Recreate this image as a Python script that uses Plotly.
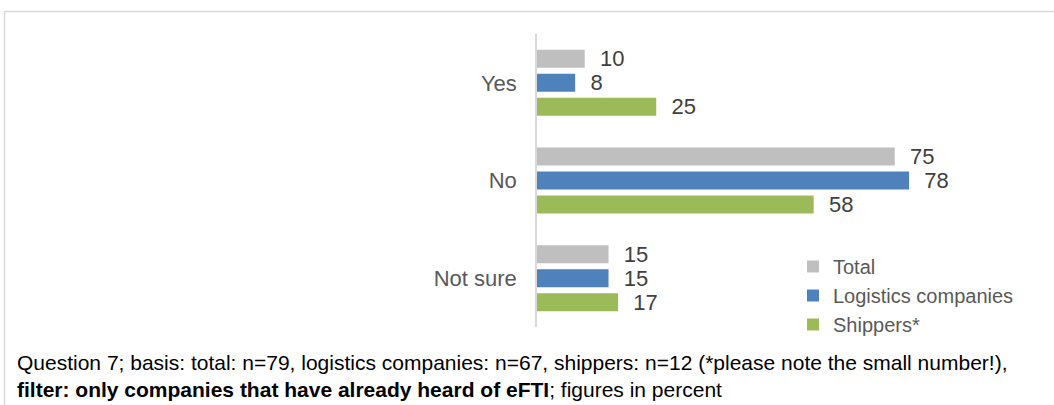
import plotly.graph_objects as go

# Survey answers (figures in percent)
categories = ["Yes", "No", "Not sure"]
series_names = ["Total", "Logistics companies", "Shippers*"]
total = [10, 75, 15]
logistics = [8, 78, 15]
shippers = [25, 58, 17]

colors = ["#bfbfbf", "#4f81bd", "#9bbb59"]
footnote_lines = [
    "Question 7; basis: total: n=79, logistics companies: n=67, "
    "shippers: n=12 (*please note the small number!),",
    "<b>filter: only companies that have already heard of eFTI</b>; "
    "figures in percent",
]

W, H = 1054, 405
M_L, M_R, M_T, M_B = 537, 40, 34, 78
plot_w = W - M_L - M_R
plot_h = H - M_T - M_B


def px_to_paper_x(px):
    return (px - M_L) / plot_w


def px_to_paper_y(py):
    return (H - M_B - py) / plot_h


fig = go.Figure()
for name, vals, col in zip(series_names, [total, logistics, shippers], colors):
    fig.add_trace(go.Bar(
        y=categories,
        x=vals,
        name=name,
        orientation="h",
        marker=dict(color=col, line=dict(width=0)),
        text=vals,
        texttemplate="\u00a0\u00a0%{text}",
        textposition="outside",
        constraintext="none",
        cliponaxis=False,
        textfont=dict(family="Liberation Sans, Arial, sans-serif", size=22, color="#404040"),
        hoverinfo="skip",
    ))

# Frame lines around the chart block (top and left edges)
frame_color = "#d9d9d9"
fig.add_shape(type="line", xref="paper", yref="paper",
              x0=px_to_paper_x(4.5), x1=px_to_paper_x(W + 2),
              y0=px_to_paper_y(11.5), y1=px_to_paper_y(11.5),
              line=dict(color=frame_color, width=1.5))
fig.add_shape(type="line", xref="paper", yref="paper",
              x0=px_to_paper_x(4.5), x1=px_to_paper_x(4.5),
              y0=px_to_paper_y(11.5), y1=px_to_paper_y(H + 2),
              line=dict(color=frame_color, width=1.5))

# Two-line footnote below the chart
foot_font = dict(family="Liberation Sans, Arial, sans-serif", size=21, color="#000000")
fig.add_annotation(text="<br>".join(footnote_lines), xref="paper", yref="paper",
                   x=px_to_paper_x(15), y=px_to_paper_y(376),
                   xanchor="left", yanchor="middle", align="left",
                   showarrow=False, font=foot_font)

fig.update_layout(
    width=W, height=H,
    margin=dict(l=M_L, r=M_R, t=M_T, b=M_B, pad=0),
    paper_bgcolor="white", plot_bgcolor="white",
    barmode="group",
    bargap=0.263,
    bargroupgap=0.25,
    showlegend=True,
    legend=dict(
        x=px_to_paper_x(793), y=px_to_paper_y(247),
        xanchor="left", yanchor="top",
        font=dict(family="Liberation Sans, Arial, sans-serif", size=20, color="#595959"),
        bgcolor="rgba(0,0,0,0)", borderwidth=0,
        traceorder="normal",
    ),
    xaxis=dict(range=[0, 100], showgrid=False, zeroline=False,
               showticklabels=False, showline=False, ticks=""),
    yaxis=dict(autorange="reversed", showgrid=False, zeroline=False,
               showline=True, linecolor="#d9d9d9", linewidth=1.5,
               ticks="", ticklabelstandoff=14,
               tickfont=dict(family="Liberation Sans, Arial, sans-serif", size=22, color="#595959")),
    font=dict(family="Liberation Sans, Arial, sans-serif"),
)

fig.write_html("out.html")
